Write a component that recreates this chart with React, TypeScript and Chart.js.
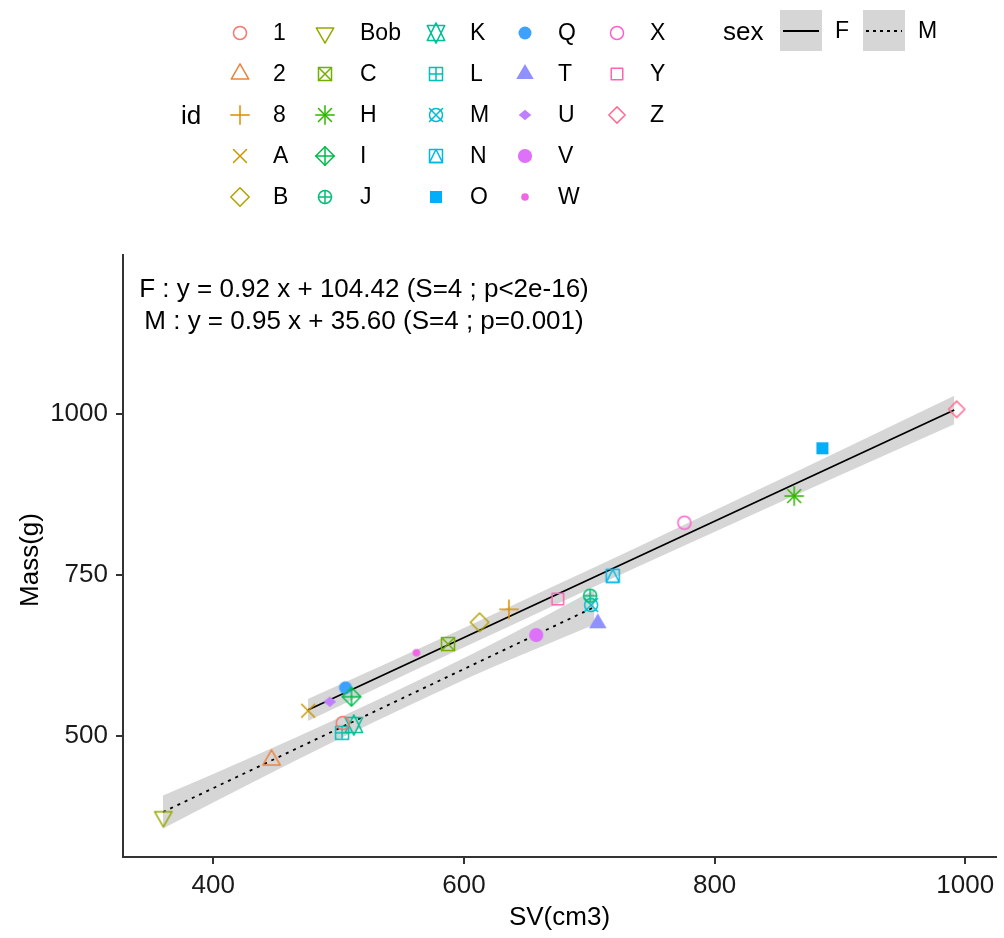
import React, { useEffect, useRef } from "react";
import { Chart, registerables } from "chart.js";

Chart.register(...registerables);

// ---------- data ----------
const ids = ["1", "2", "8", "A", "B", "Bob", "C", "H", "I", "J", "K", "L", "M", "N", "O", "Q", "T", "U", "V", "W", "X", "Y", "Z"];
const pchCodes = [1, 2, 3, 4, 5, 6, 7, 8, 9, 10, 11, 12, 13, 14, 15, 16, 17, 18, 19, 20, 21, 22, 23];
const svValues = [503.3, 446.5, 635.9, 475.7, 612.5, 360.2, 587.3, 863.5, 510.3, 700.7, 512.1, 502.8, 701.5, 718.7, 886.0, 505.5, 706.8, 493.0, 657.7, 562.1, 775.9, 674.9, 993.1];
const massValues = [520.2, 462.7, 696.9, 539.3, 676.7, 374.6, 643.0, 873.0, 561.1, 718.1, 517.1, 505.1, 703.6, 749.1, 947.2, 575.1, 675.2, 553.3, 657.0, 629.5, 831.5, 712.9, 1007.8];

const sexLevels = ["F", "M"];
const fLineSV = [475.5, 991.2];
const fLineMass = [540.4, 1006.7];
const mLineSV = [359.9, 704.1];
const mLineMass = [381.9, 700.5];

const fBandSV = [475.5, 540, 600, 665, 740, 820, 900, 991.2];
const fBandUpper = [557.4, 614.2, 668, 726.8, 795.1, 869, 943.3, 1028.7];
const fBandLower = [523.4, 583.2, 638, 696.8, 764.1, 835, 905.3, 984.7];
const mBandSV = [359.9, 430, 500, 560, 620, 704.1];
const mBandUpper = [407.4, 466.8, 528.1, 583.1, 640.6, 727.5];
const mBandLower = [356.4, 426.8, 495.1, 551.1, 604.6, 673.5];

const xTicks = [400, 600, 800, 1000];
const yTicks = [500, 750, 1000];
const xTitle = "SV(cm3)";
const yTitle = "Mass(g)";
const idTitle = "id";
const sexTitle = "sex";
const eqLines = [
  "F : y = 0.92 x + 104.42 (S=4 ; p<2e-16)",
  "M : y = 0.95 x + 35.60 (S=4 ; p=0.001)",
];

const FONT = "'Liberation Sans', Arial, sans-serif";
const BAND = "rgba(153,153,153,0.4)";

// ---------- colour helpers (ggplot hue palette) ----------
function hcl(h: number, c: number, l: number): string {
  const hr = (h * Math.PI) / 180;
  const U = c * Math.cos(hr);
  const V = c * Math.sin(hr);
  const Xn = 95.047, Yn = 100, Zn = 108.883;
  const den = Xn + 15 * Yn + 3 * Zn;
  const un = (4 * Xn) / den, vn = (9 * Yn) / den;
  const Y = l > 8 ? Yn * Math.pow((l + 16) / 116, 3) : (Yn * l) / 903.3;
  const up = U / (13 * l) + un;
  const vp = V / (13 * l) + vn;
  const X = (Y * 9 * up) / (4 * vp);
  const Z = (Y * (12 - 3 * up - 20 * vp)) / (4 * vp);
  const x = X / 100, y = Y / 100, z = Z / 100;
  const lin = [
    3.240479 * x - 1.53715 * y - 0.498535 * z,
    -0.969256 * x + 1.875992 * y + 0.041556 * z,
    0.055648 * x - 0.204043 * y + 1.057311 * z,
  ];
  const out = lin.map((v) => {
    const g = v <= 0.0031308 ? 12.92 * v : 1.055 * Math.pow(v, 1 / 2.4) - 0.055;
    return Math.round(Math.max(0, Math.min(1, g)) * 255);
  });
  return `rgb(${out[0]},${out[1]},${out[2]})`;
}

function huePal(n: number): string[] {
  const res: string[] = [];
  for (let i = 0; i < n; i++) res.push(hcl(15 + (360 * i) / n, 100, 65));
  return res;
}

// ---------- symbol drawing (R pch shapes) ----------
function makeSymbol(pch: number, color: string): HTMLCanvasElement {
  const S = 28;
  const c = document.createElement("canvas");
  c.width = S;
  c.height = S;
  const ctx = c.getContext("2d")!;
  ctx.translate(S / 2, S / 2);
  ctx.strokeStyle = color;
  ctx.fillStyle = color;
  ctx.lineWidth = 1.5;
  ctx.lineCap = "round";
  ctx.lineJoin = "round";
  const R = 6.5;
  const circle = (r: number, fill = false) => {
    ctx.beginPath();
    ctx.arc(0, 0, r, 0, Math.PI * 2);
    fill ? ctx.fill() : ctx.stroke();
  };
  const square = (h: number, fill = false) => {
    if (fill) ctx.fillRect(-h, -h, 2 * h, 2 * h);
    else ctx.strokeRect(-h, -h, 2 * h, 2 * h);
  };
  const diamond = (h: number, v: number, fill = false) => {
    ctx.beginPath();
    ctx.moveTo(0, -v);
    ctx.lineTo(h, 0);
    ctx.lineTo(0, v);
    ctx.lineTo(-h, 0);
    ctx.closePath();
    fill ? ctx.fill() : ctx.stroke();
  };
  const plus = (h: number) => {
    ctx.beginPath();
    ctx.moveTo(-h, 0);
    ctx.lineTo(h, 0);
    ctx.moveTo(0, -h);
    ctx.lineTo(0, h);
    ctx.stroke();
  };
  const cross = (h: number) => {
    ctx.beginPath();
    ctx.moveTo(-h, -h);
    ctx.lineTo(h, h);
    ctx.moveTo(-h, h);
    ctx.lineTo(h, -h);
    ctx.stroke();
  };
  const tri = (up: boolean, fill = false, r0 = R) => {
    const r = 1.5551 * r0, xc = 1.3468 * r0, yc = 0.7776 * r0;
    const s = up ? 1 : -1;
    ctx.beginPath();
    ctx.moveTo(0, -r * s);
    ctx.lineTo(xc, yc * s);
    ctx.lineTo(-xc, yc * s);
    ctx.closePath();
    fill ? ctx.fill() : ctx.stroke();
  };
  const S2 = Math.SQRT2;
  switch (pch) {
    case 1: circle(R); break;
    case 2: tri(true); break;
    case 3: plus(R * S2); break;
    case 4: cross(R); break;
    case 5: diamond(R * S2, R * S2); break;
    case 6: tri(false); break;
    case 7: square(R); cross(R); break;
    case 8: cross(R); plus(R * S2); break;
    case 9: diamond(R * S2, R * S2); plus(R * S2); break;
    case 10: circle(R); plus(R); break;
    case 11: {
      const r = 1.5551 * R, xc = 1.3468 * R;
      const yc = 0.5 * (0.7776 * R + r);
      ctx.beginPath();
      ctx.moveTo(0, -r); ctx.lineTo(xc, yc); ctx.lineTo(-xc, yc); ctx.closePath();
      ctx.moveTo(0, r); ctx.lineTo(xc, -yc); ctx.lineTo(-xc, -yc); ctx.closePath();
      ctx.stroke();
      break;
    }
    case 12: square(R); plus(R); break;
    case 13: circle(R); cross(R); break;
    case 14: {
      square(R);
      ctx.beginPath();
      ctx.moveTo(0, -R); ctx.lineTo(R, R); ctx.lineTo(-R, R); ctx.closePath();
      ctx.stroke();
      break;
    }
    case 15: square(6, true); break;
    case 16: circle(R, true); break;
    case 17: tri(true, true); break;
    case 18: diamond(6.3, 5.3, true); break;
    case 19: circle(R + 0.6, true); break;
    case 20: circle(3.8, true); break;
    case 21: circle(R); break;
    case 22: square(R * 0.886); break;
    case 23: diamond(R * 1.253, R * 1.253); break;
    default: circle(R);
  }
  return c;
}

// ---------- component ----------
export default function App() {
  const canvasRef = useRef<HTMLCanvasElement | null>(null);

  useEffect(() => {
    const canvas = canvasRef.current;
    if (!canvas) return;
    const colors = huePal(ids.length);
    const symbols = ids.map((_, i) => makeSymbol(pchCodes[i], colors[i]));

    const pointSets = ids.map((id, i) => ({
      label: id,
      data: [{ x: svValues[i], y: massValues[i] }],
      pointStyle: symbols[i] as any,
      pointRadius: 7,
      pointHoverRadius: 7,
      showLine: false,
      order: 0,
    }));

    const lineSets = [
      {
        label: "F-line",
        data: fLineSV.map((x, i) => ({ x, y: fLineMass[i] })),
        showLine: true,
        borderColor: "#000",
        borderWidth: 1.8,
        pointRadius: 0,
        fill: false,
        order: 1,
      },
      {
        label: "M-line",
        data: mLineSV.map((x, i) => ({ x, y: mLineMass[i] })),
        showLine: true,
        borderColor: "#000",
        borderWidth: 1.8,
        borderDash: [3, 5],
        pointRadius: 0,
        fill: false,
        order: 1,
      },
    ];

    const bandSets = [
      {
        label: "F-upper",
        data: fBandSV.map((x, i) => ({ x, y: fBandUpper[i] })),
        showLine: true,
        borderWidth: 0,
        borderColor: "rgba(0,0,0,0)",
        backgroundColor: BAND,
        pointRadius: 0,
        tension: 0.4,
        cubicInterpolationMode: "monotone",
        fill: "+1",
        order: 2,
      },
      {
        label: "F-lower",
        data: fBandSV.map((x, i) => ({ x, y: fBandLower[i] })),
        showLine: true,
        borderWidth: 0,
        borderColor: "rgba(0,0,0,0)",
        pointRadius: 0,
        tension: 0.4,
        cubicInterpolationMode: "monotone",
        fill: false,
        order: 2,
      },
      {
        label: "M-upper",
        data: mBandSV.map((x, i) => ({ x, y: mBandUpper[i] })),
        showLine: true,
        borderWidth: 0,
        borderColor: "rgba(0,0,0,0)",
        backgroundColor: BAND,
        pointRadius: 0,
        tension: 0.4,
        cubicInterpolationMode: "monotone",
        fill: "+1",
        order: 2,
      },
      {
        label: "M-lower",
        data: mBandSV.map((x, i) => ({ x, y: mBandLower[i] })),
        showLine: true,
        borderWidth: 0,
        borderColor: "rgba(0,0,0,0)",
        pointRadius: 0,
        tension: 0.4,
        cubicInterpolationMode: "monotone",
        fill: false,
        order: 2,
      },
    ];

    const decor = {
      id: "decor",
      afterDraw(chart: any) {
        const ctx: CanvasRenderingContext2D = chart.ctx;
        const area = chart.chartArea;
        ctx.save();
        ctx.fillStyle = "#000";
        ctx.textBaseline = "middle";

        // equations
        ctx.textAlign = "center";
        ctx.font = `26px ${FONT}`;
        ctx.fillText(eqLines[0], 364, 290);
        ctx.fillText(eqLines[1], 364, 322);

        // axis titles
        ctx.font = `26px ${FONT}`;
        ctx.fillText(xTitle, (area.left + area.right) / 2, 918);
        ctx.save();
        ctx.translate(31, (area.top + area.bottom) / 2 + 4);
        ctx.rotate(-Math.PI / 2);
        ctx.fillText(yTitle, 0, 0);
        ctx.restore();

        // id legend
        ctx.textAlign = "left";
        ctx.font = `26px ${FONT}`;
        ctx.fillText(idTitle, 181, 117);
        const colSym = [240, 325, 436, 525, 617];
        const colLab = [273, 360, 470, 558, 650];
        const rowY = [33, 74, 115, 156, 197];
        ctx.font = `23px ${FONT}`;
        ids.forEach((id, i) => {
          const col = Math.floor(i / 5);
          const row = i % 5;
          const sym = symbols[i];
          ctx.drawImage(sym, colSym[col] - sym.width / 2, rowY[row] - sym.height / 2);
          ctx.fillText(id, colLab[col], rowY[row] + 1);
        });

        // sex legend
        ctx.font = `26px ${FONT}`;
        ctx.fillText(sexTitle, 723, 33);
        const boxX = [780, 863];
        const labX = [835, 918];
        sexLevels.forEach((s, i) => {
          ctx.fillStyle = BAND;
          ctx.fillRect(boxX[i], 10, 42, 41);
          ctx.strokeStyle = "#000";
          ctx.lineWidth = 1.8;
          ctx.setLineDash(i === 0 ? [] : [3, 4]);
          ctx.beginPath();
          ctx.moveTo(boxX[i] + 3, 31);
          ctx.lineTo(boxX[i] + 39, 31);
          ctx.stroke();
          ctx.setLineDash([]);
          ctx.fillStyle = "#000";
          ctx.font = `23px ${FONT}`;
          ctx.fillText(s, labX[i], 32);
        });
        ctx.restore();
      },
    };

    const axisCommon = (ticks: number[], padding: number) => ({
      type: "linear" as const,
      grid: {
        drawOnChartArea: false,
        drawTicks: true,
        tickLength: 7,
        color: "#333",
        lineWidth: 2,
      },
      border: { display: true, color: "#333", width: 2 },
      ticks: {
        font: { family: FONT, size: 26 },
        color: "#1a1a1a",
        padding,
        autoSkip: false,
        maxRotation: 0,
        callback: (v: any) => String(v),
      },
      afterBuildTicks: (scale: any) => {
        scale.ticks = ticks.map((v) => ({ value: v }));
      },
    });

    const chart = new Chart(canvas, {
      type: "scatter",
      data: { datasets: [...pointSets, ...lineSets, ...bandSets] as any },
      options: {
        responsive: false,
        animation: false,
        devicePixelRatio: 1,
        layout: { padding: { top: 255, right: 7, left: 0, bottom: 0 } },
        plugins: { legend: { display: false }, tooltip: { enabled: false } },
        events: [],
        scales: {
          x: {
            ...axisCommon(xTicks, 6),
            position: "bottom",
            min: 328,
            max: 1024.5,
            afterFit: (s: any) => {
              s.height = 81;
            },
          },
          y: {
            ...axisCommon(yTicks, 8),
            position: "left",
            min: 312,
            max: 1247.6,
            afterFit: (s: any) => {
              s.width = 123;
            },
          },
        } as any,
      },
      plugins: [decor],
    });

    return () => chart.destroy();
  }, []);

  return (
    <div style={{ position: "fixed", left: 0, top: 0, width: 1004, height: 938, background: "#fff" }}>
      <canvas ref={canvasRef} width={1004} height={938} style={{ display: "block" }} />
    </div>
  );
}
